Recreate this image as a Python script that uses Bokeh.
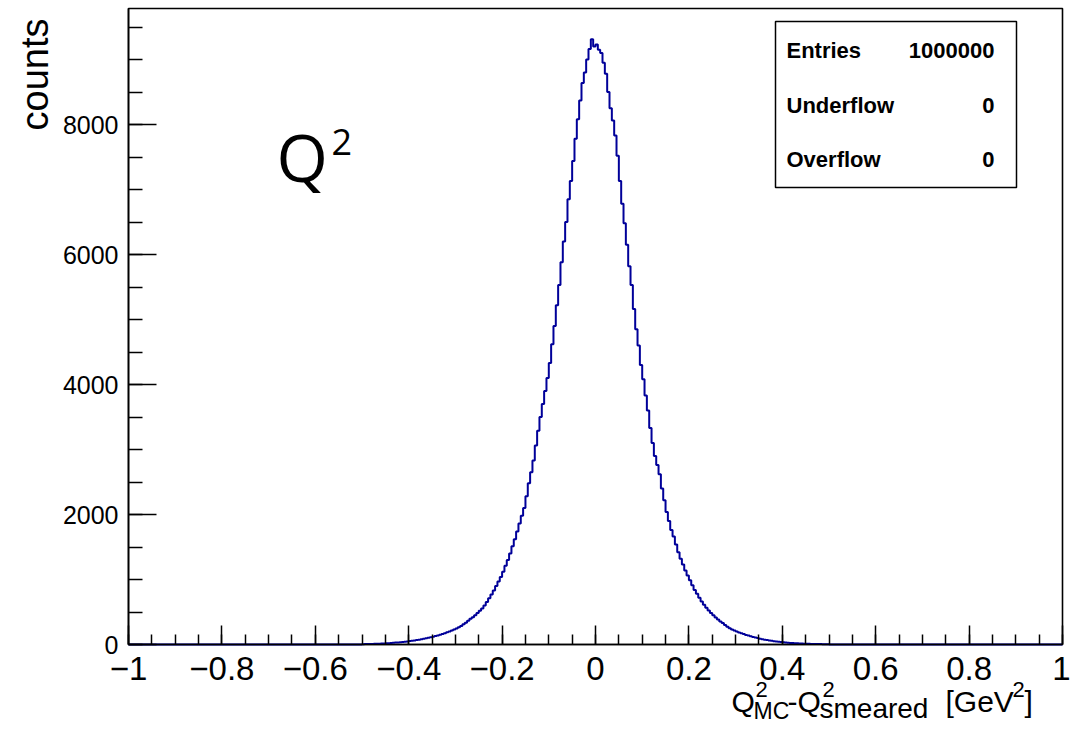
import numpy as np
from bokeh.plotting import figure
from bokeh.models import Label, BoxAnnotation, FixedTicker, Range1d, CustomJSTickFormatter
from bokeh.embed import file_html
from bokeh.resources import INLINE

# ---------------- data ----------------
bin_width = 0.005
# bins from -0.5 up to 0 (left to right)
counts_neg = [
    5, 6, 7, 8, 9, 10, 12, 13, 15, 17,
    19, 21, 23, 26, 29, 32, 35, 39, 43, 47,
    52, 57, 62, 68, 74, 81, 88, 95, 103, 112,
    120, 130, 140, 150, 162, 175, 188, 200, 215, 232,
    248, 265, 285, 310, 335, 365, 395, 420, 450, 485,
    520, 555, 600, 655, 710, 770, 830, 900, 970, 1040,
    1120, 1210, 1300, 1400, 1510, 1620, 1740, 1860, 1980, 2100,
    2280, 2480, 2650, 2830, 3060, 3290, 3500, 3700, 3900, 4100,
    4330, 4620, 4900, 5220, 5530, 5880, 6200, 6500, 6850, 7130,
    7440, 7780, 8080, 8370, 8640, 8800, 9000, 9160, 9310, 9200,
]
# bins from 0 up to 0.5
counts_pos = [
    9230, 9150, 9100, 8950, 8780, 8500, 8250, 8060, 7830, 7520,
    7130, 6780, 6480, 6150, 5820, 5530, 5160, 4850, 4600, 4300,
    4080, 3830, 3600, 3330, 3100, 2900, 2760, 2620, 2400, 2220,
    2040, 1900, 1760, 1660, 1540, 1420, 1320, 1230, 1140, 1060,
    990, 910, 840, 780, 720, 660, 610, 565, 525, 485,
    450, 415, 385, 355, 330, 300, 275, 250, 232, 215,
    200, 185, 172, 160, 148, 137, 126, 117, 108, 99,
    90, 82, 75, 68, 62, 56, 51, 46, 42, 38,
    34, 31, 28, 25, 22, 20, 18, 16, 14, 13,
    11, 10, 9, 8, 7, 6, 6, 5, 4, 4,
]
x_major = [-1.0, -0.8, -0.6, -0.4, -0.2, 0.0, 0.2, 0.4, 0.6, 0.8, 1.0]
y_major = [0, 2000, 4000, 6000, 8000]
stats_names = ["Entries", "Underflow", "Overflow"]
stats_values = ["1000000", "0", "0"]

X_MIN, X_MAX = -1.0, 1.0
Y_MAX = 9785

# ---------------- histogram outline ----------------
n_neg = len(counts_neg)
left_neg = -bin_width * n_neg + bin_width * np.arange(n_neg)
left_pos = bin_width * np.arange(len(counts_pos))
lefts = np.concatenate([left_neg, left_pos])
end = bin_width * len(counts_pos)
xs = np.concatenate([[X_MIN], lefts, [end, X_MAX]])
ys = np.concatenate([[0], counts_neg, counts_pos, [0, 0]])

# ---------------- layout geometry (canvas pixels) ----------------
W, H = 1070, 730
FRAME_L, FRAME_R, FRAME_T, FRAME_B = 128, 1062, 8, 644
sx = (FRAME_R - FRAME_L) / (X_MAX - X_MIN)
sy = (FRAME_B - FRAME_T) / Y_MAX
x_start = X_MIN - FRAME_L / sx
x_end = X_MAX + (W - FRAME_R) / sx
y_start = -(H - FRAME_B) / sy
y_end = Y_MAX + FRAME_T / sy

def xd(px):
    return X_MIN + (px - FRAME_L) / sx

def yd(py):
    return (FRAME_B - py) / sy

p = figure(width=W, height=H, x_range=Range1d(x_start, x_end), y_range=Range1d(y_start, y_end),
           output_backend="svg", toolbar_location=None, min_border=0)
p.grid.visible = False
p.outline_line_color = None
p.background_fill_color = "white"
p.border_fill_color = "white"

# frame box
p.add_layout(BoxAnnotation(left=X_MIN, right=X_MAX, bottom=0, top=Y_MAX,
                           fill_color=None, line_color="black", line_alpha=1.0,
                           line_width=1.6, level="underlay"))

p.step(xs, ys, mode="after", line_color="#000099", line_width=2)

FONT = "Liberation Sans"
# offset (in em) between the label anchor and the text baseline, as rendered
BASE_SHIFT = {"Liberation Sans": 0.3465, "Open Sans": 0.388}

xa = p.xaxis[0]
xa.fixed_location = 0
xa.bounds = (X_MIN, X_MAX)
xa.ticker = FixedTicker(ticks=x_major, minor_ticks=list(np.round(np.linspace(-1, 1, 41), 3)))
xa.formatter = CustomJSTickFormatter(code="""
var a = Math.round(Math.abs(tick)*10)/10;
return (tick < -1e-9 ? "\\u2212" : "") + a.toString();
""")
xa.major_tick_in = 19; xa.major_tick_out = 0
xa.minor_tick_in = 10; xa.minor_tick_out = 0
xa.axis_line_width = 1.6; xa.major_tick_line_width = 1.5; xa.minor_tick_line_width = 1.5
xa.major_label_text_font = FONT
xa.major_label_text_font_size = "33px"
xa.major_label_text_color = "black"
xa.major_label_standoff = 12

ya = p.yaxis[0]
ya.fixed_location = X_MIN
ya.bounds = (0, Y_MAX)
ya.ticker = FixedTicker(ticks=y_major, minor_ticks=list(range(0, 10000, 500)))
ya.major_tick_in = 28; ya.major_tick_out = 0
ya.minor_tick_in = 14; ya.minor_tick_out = 0
ya.axis_line_width = 1.6; ya.major_tick_line_width = 1.5; ya.minor_tick_line_width = 1.5
ya.major_label_text_font = FONT
ya.major_label_text_font_size = "25px"
ya.major_label_text_color = "black"
ya.major_label_standoff = 10


def lab(px, py, text, size, align="left", bold=False, font=FONT, rotated=False):
    """px, py: canvas position of the text start/end and its baseline."""
    shift = BASE_SHIFT[font] * size
    if rotated:
        ax, ay, angle = px - shift, py, np.pi / 2
    else:
        ax, ay, angle = px, py - shift, 0
    p.add_layout(Label(x=xd(ax), y=yd(ay), text=text, text_font=font,
                       text_font_size=f"{size}px", text_align=align,
                       text_baseline="alphabetic", angle=angle,
                       text_font_style="bold" if bold else "normal",
                       text_color="black"))

# y-axis title
lab(48, 18, "counts", 38, align="right", rotated=True)

# x-axis title pieces
lab(731, 711, "Q", 30)
lab(755, 697, "2", 22)
lab(753, 718, "MC", 23)
lab(787, 711, "-Q", 30)
lab(822, 697, "2", 22)
lab(819, 718, "smeared", 28)
lab(945, 711, "[GeV", 30)
lab(1012, 697, "2", 22)
lab(1024, 711, "]", 30)

# Q^2 label
lab(276, 181, "Q", 66, font="Open Sans")
lab(331, 155, "2", 36, font="Open Sans")

# stats box
p.add_layout(BoxAnnotation(left=xd(775), right=xd(1016), top=yd(21), bottom=yd(187),
                           fill_color="white", fill_alpha=1.0, line_color="black",
                           line_alpha=1.0, line_width=1.5, level="annotation"))
rows_y = [58, 113, 167]
for name, val, ry in zip(stats_names, stats_values, rows_y):
    lab(786, ry, name, 22, bold=True)
    lab(994, ry, val, 22, align="right", bold=True)

open("out.html", "w").write(file_html(p, INLINE))
